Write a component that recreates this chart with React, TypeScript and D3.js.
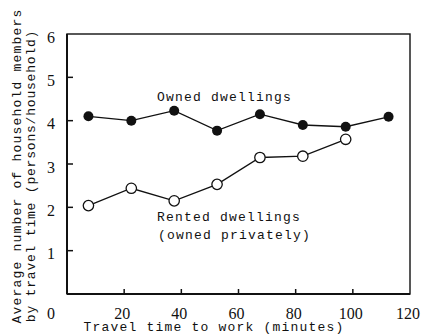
import React from 'react';
import * as d3 from 'd3';

// travel time bins (midpoints, minutes)
const ownedTimes = [7.5, 22.5, 37.5, 52.5, 67.5, 82.5, 97.5, 112.5];
const ownedValues = [4.1, 4.0, 4.23, 3.77, 4.15, 3.9, 3.86, 4.09];
const rentedTimes = [7.5, 22.5, 37.5, 52.5, 67.5, 82.5, 97.5];
const rentedValues = [2.04, 2.44, 2.15, 2.53, 3.15, 3.18, 3.57];

const xTicks = [20, 40, 60, 80, 100, 120];
const yTicks = [1, 2, 3, 4, 5, 6];

const mono = '"Liberation Mono", "DejaVu Sans Mono", monospace';
const serif = '"Liberation Serif", "DejaVu Serif", serif';

const App: React.FC = () => {
    const width = 424;
    const height = 334;

    const x = d3.scaleLinear().domain([0, 120]).range([67, 410]);
    const y = d3.scaleLinear().domain([0, 6]).range([294, 34]);

    const line = d3.line<[number, number]>()
        .x(d => x(d[0]))
        .y(d => y(d[1]));

    const owned: [number, number][] = ownedTimes.map((t, i) => [t, ownedValues[i]]);
    const rented: [number, number][] = rentedTimes.map((t, i) => [t, rentedValues[i]]);

    const txt = { fontFamily: mono, fontSize: 13, letterSpacing: 1.2, fill: '#111' };

    return (
        <svg width={width} height={height} style={{ position: 'absolute', left: 0, top: 0, background: '#fff' }}>
            {/* frame */}
            <rect x={x(0)} y={y(6)} width={x(120) - x(0)} height={y(0) - y(6)}
                fill="none" stroke="#111" strokeWidth={1.4} />
            <line x1={x(0)} x2={x(0)} y1={y(6)} y2={y(0)} stroke="#111" strokeWidth={2} />
            <line x1={x(0)} x2={x(120)} y1={y(0)} y2={y(0)} stroke="#111" strokeWidth={2} />

            {/* y ticks */}
            {yTicks.map(t => (
                <g key={'y' + t}>
                    {t < 6 && <line x1={x(0)} x2={x(0) + 6} y1={y(t)} y2={y(t)} stroke="#111" strokeWidth={1.5} />}
                    <text x={55} y={y(t) + 3} textAnchor="end" dominantBaseline="central"
                        fontFamily={serif} fontSize={16} fill="#111">{t}</text>
                </g>
            ))}
            <text x={55} y={313} textAnchor="end" dominantBaseline="central"
                fontFamily={serif} fontSize={16} fill="#111">0</text>

            {/* x ticks */}
            {xTicks.map(t => (
                <g key={'x' + t}>
                    {t < 120 && <line x1={x(t)} x2={x(t)} y1={y(0)} y2={y(0) - 5} stroke="#111" strokeWidth={1.5} />}
                    <text x={x(t) - 2} y={313} textAnchor="middle" dominantBaseline="central"
                        fontFamily={serif} fontSize={16} fill="#111">{t}</text>
                </g>
            ))}

            {/* series */}
            <path d={line(owned) || ''} fill="none" stroke="#111" strokeWidth={1.3} />
            <path d={line(rented) || ''} fill="none" stroke="#111" strokeWidth={1.3} />
            {owned.map((d, i) => (
                <circle key={'o' + i} cx={x(d[0])} cy={y(d[1])} r={5} fill="#111" />
            ))}
            {rented.map((d, i) => (
                <circle key={'r' + i} cx={x(d[0])} cy={y(d[1])} r={5.2} fill="#fff" stroke="#111" strokeWidth={1.3} />
            ))}

            {/* annotations */}
            <text x={157} y={101} {...txt}>Owned dwellings</text>
            <text x={157} y={221} {...txt}>Rented dwellings</text>
            <text x={158} y={239} {...txt}>(owned privately)</text>

            {/* axis titles */}
            <text x={214} y={331} textAnchor="middle" {...txt}>Travel time to work (minutes)</text>
            <text transform="translate(21,166) rotate(-90)" textAnchor="middle" {...txt}>
                Average number of household members
            </text>
            <text transform="translate(35,176) rotate(-90)" textAnchor="middle" {...txt} letterSpacing={0.8}>
                by travel time (persons/household)
            </text>
        </svg>
    );
};

export default App;
